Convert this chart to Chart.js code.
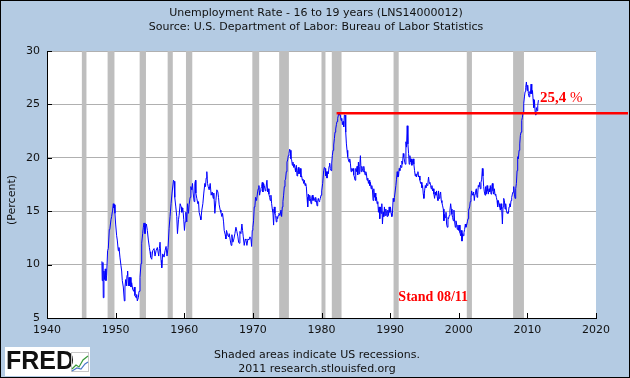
<!DOCTYPE html>
<html>
<head>
<meta charset="utf-8">
<title>Unemployment Rate - 16 to 19 years</title>
<script src="https://cdn.jsdelivr.net/npm/chart.js@4.4.1/dist/chart.umd.min.js"></script>
<style>
html, body { margin: 0; padding: 0; background: #b4cbe3; }
#wrap { width: 630px; height: 378px; }
</style>
</head>
<body>
<div id="wrap"><canvas id="teenChart" width="630" height="378"></canvas></div>
<script>
// monthly-ish readings of LNS14000012
var dates = [
  1948.00,1948.05,1948.15,1948.20,1948.30,1948.39,1948.49,1948.59,1948.69,1948.83,1948.93,
  1949.08,1949.17,1949.32,1949.42,1949.56,1949.66,1949.76,1949.85,1949.90,
  1950.00,1950.15,1950.24,1950.39,1950.49,1950.63,1950.78,1950.88,1950.97,
  1951.12,1951.27,1951.36,1951.46,1951.56,1951.66,1951.75,1951.85,1951.95,
  1952.04,1952.14,1952.24,1952.34,1952.48,1952.63,1952.73,1952.82,1952.97,
  1953.07,1953.16,1953.31,1953.41,1953.55,1953.70,1953.80,1953.94,
  1954.04,1954.14,1954.28,1954.38,1954.48,1954.62,1954.77,1954.92,
  1955.01,1955.11,1955.26,1955.40,1955.60,1955.74,1955.89,
  1956.08,1956.28,1956.38,1956.47,1956.62,1956.72,1956.86,
  1957.06,1957.20,1957.35,1957.49,1957.64,1957.79,1957.93,
  1958.08,1958.22,1958.43,1958.52,1958.62,1958.77,1958.91,
  1959.01,1959.16,1959.25,1959.40,1959.55,1959.64,1959.79,1959.93,
  1960.03,1960.13,1960.23,1960.37,1960.47,1960.62,1960.71,1960.86,1960.96,
  1961.10,1961.20,1961.30,1961.44,1961.54,1961.64,1961.69,1961.83,1961.98,
  1962.08,1962.17,1962.32,1962.42,1962.56,1962.71,1962.85,
  1963.00,1963.10,1963.19,1963.29,1963.39,1963.49,1963.63,1963.78,1963.92,
  1964.07,1964.22,1964.31,1964.46,1964.61,1964.75,1964.90,1964.99,
  1965.09,1965.24,1965.34,1965.48,1965.58,1965.73,1965.82,1965.97,
  1966.07,1966.16,1966.31,1966.46,1966.55,1966.70,1966.84,1966.94,
  1967.09,1967.23,1967.38,1967.53,1967.67,1967.82,1967.92,
  1968.01,1968.11,1968.26,1968.40,1968.50,1968.60,1968.74,1968.89,1968.99,
  1969.13,1969.28,1969.42,1969.57,1969.72,1969.82,1969.91,
  1970.00,1970.10,1970.20,1970.30,1970.39,1970.54,1970.69,1970.78,1970.88,1970.98,
  1971.08,1971.17,1971.27,1971.37,1971.46,1971.56,1971.66,1971.81,1971.90,
  1972.05,1972.15,1972.24,1972.34,1972.44,1972.53,1972.63,1972.73,1972.83,1972.92,
  1973.02,1973.12,1973.22,1973.31,1973.41,1973.51,1973.61,1973.70,1973.80,1973.95,
  1974.09,1974.19,1974.29,1974.38,1974.48,1974.58,1974.68,1974.77,1974.87,1974.97,
  1975.07,1975.16,1975.26,1975.36,1975.45,1975.55,1975.65,1975.75,1975.84,1975.94,
  1976.04,1976.14,1976.23,1976.33,1976.43,1976.53,1976.62,1976.72,1976.82,1976.91,
  1977.01,1977.11,1977.21,1977.30,1977.40,1977.50,1977.60,1977.69,1977.79,1977.89,1977.99,
  1978.08,1978.18,1978.28,1978.37,1978.47,1978.57,1978.67,1978.76,1978.86,1978.96,
  1979.06,1979.15,1979.25,1979.35,1979.45,1979.54,1979.64,1979.74,1979.83,1979.93,
  1980.03,1980.17,1980.32,1980.42,1980.52,1980.61,1980.71,1980.80,1980.90,
  1981.00,1981.10,1981.19,1981.29,1981.39,1981.49,1981.58,1981.68,1981.78,1981.88,1981.97,
  1982.07,1982.17,1982.26,1982.36,1982.46,1982.56,1982.65,1982.75,1982.85,1982.95,
  1983.04,1983.14,1983.24,1983.33,1983.43,1983.53,1983.63,1983.72,1983.82,1983.92,
  1984.02,1984.11,1984.21,1984.31,1984.41,1984.50,1984.60,1984.70,1984.79,1984.89,1984.99,
  1985.09,1985.18,1985.28,1985.38,1985.48,1985.57,1985.67,1985.77,1985.87,1985.96,
  1986.06,1986.16,1986.25,1986.35,1986.45,1986.55,1986.64,1986.74,1986.84,1986.94,
  1987.03,1987.13,1987.23,1987.33,1987.42,1987.52,1987.62,1987.71,1987.81,1987.91,
  1988.01,1988.10,1988.20,1988.30,1988.40,1988.49,1988.59,1988.69,1988.79,1988.88,1988.98,
  1989.08,1989.17,1989.27,1989.37,1989.47,1989.56,1989.66,1989.76,1989.86,1989.95,
  1990.05,1990.15,1990.25,1990.34,1990.44,1990.54,1990.63,1990.84,1990.93,
  1991.03,1991.13,1991.23,1991.32,1991.42,1991.52,1991.61,1991.71,1991.81,1991.91,
  1992.00,1992.10,1992.20,1992.30,1992.39,1992.49,1992.59,1992.69,1992.78,1992.88,1992.98,
  1993.07,1993.17,1993.27,1993.37,1993.46,1993.56,1993.66,1993.76,1993.85,1993.95,
  1994.05,1994.15,1994.24,1994.34,1994.44,1994.53,1994.63,1994.73,1994.83,1994.92,
  1995.02,1995.12,1995.22,1995.31,1995.41,1995.51,1995.60,1995.70,1995.80,1995.90,1995.99,
  1996.09,1996.19,1996.29,1996.38,1996.48,1996.58,1996.68,1996.77,1996.87,1996.97,
  1997.06,1997.16,1997.26,1997.36,1997.45,1997.55,1997.65,1997.75,1997.84,1997.94,
  1998.04,1998.14,1998.23,1998.33,1998.43,1998.52,1998.62,1998.72,1998.82,1998.91,
  1999.01,1999.11,1999.21,1999.30,1999.40,1999.50,1999.59,1999.69,1999.79,1999.89,1999.98,
  2000.08,2000.18,2000.28,2000.37,2000.47,2000.57,2000.67,2000.76,2000.86,2000.96,
  2001.05,2001.15,2001.25,2001.35,2001.44,2001.59,2001.68,2001.78,2001.88,2001.98,
  2002.07,2002.17,2002.27,2002.37,2002.46,2002.56,2002.66,2002.76,2002.85,2002.95,
  2003.05,2003.14,2003.24,2003.34,2003.44,2003.53,2003.63,2003.73,2003.83,2003.92,
  2004.02,2004.12,2004.22,2004.31,2004.41,2004.51,2004.60,2004.70,2004.80,2004.90,2004.99,
  2005.09,2005.19,2005.29,2005.38,2005.48,2005.58,2005.67,2005.77,2005.87,2005.97,
  2006.06,2006.16,2006.26,2006.36,2006.45,2006.55,2006.65,2006.75,2006.84,2006.94,
  2007.04,2007.13,2007.23,2007.33,2007.43,2007.52,2007.62,2007.72,2007.82,2007.91,
  2008.01,2008.11,2008.21,2008.30,2008.40,2008.50,2008.59,2008.69,2008.79,2008.89,2008.98,
  2009.08,2009.18,2009.28,2009.37,2009.47,2009.57,2009.67,2009.76,2009.86,2009.96,
  2010.05,2010.15,2010.25,2010.35,2010.44,2010.54,2010.64,2010.74,2010.83,2010.93,
  2011.03,2011.13,2011.22,2011.32,2011.42,2011.51,2011.61
];
var rates = [
  10.3,8.5,10.2,6.9,9.4,8.6,9.6,8.5,9.0,11.3,11.5,
  13.3,13.4,14.2,14.5,15.1,15.7,15.3,15.6,14.8,
  13.8,12.7,12.3,11.3,11.6,10.7,9.9,9.4,8.5,
  7.9,6.6,7.9,8.6,8.0,9.0,9.4,8.0,8.8,
  8.0,8.8,7.9,8.3,7.7,7.5,7.9,7.1,6.9,
  7.2,6.6,6.9,7.5,8.8,10.1,12.0,12.9,
  13.5,13.9,12.9,13.7,13.8,13.2,12.3,11.6,
  11.2,10.7,10.5,11.3,11.5,10.8,11.3,
  11.6,10.8,11.5,12.1,10.4,9.7,11.0,
  10.7,11.3,11.7,10.8,11.6,13.4,14.5,
  15.7,16.7,17.9,17.8,16.3,15.4,14.5,
  12.9,14.2,14.6,15.7,15.4,14.9,15.3,14.2,
  13.2,14.0,14.9,14.0,15.7,14.8,15.6,16.3,17.3,
  17.0,17.6,16.7,15.9,17.6,17.9,16.7,16.2,15.7,
  15.9,14.9,14.5,14.2,15.1,15.7,16.7,
  17.6,17.3,18.1,18.7,17.6,17.3,17.0,17.6,16.5,
  16.8,16.2,16.7,14.8,16.0,17.0,16.8,16.3,
  15.6,15.1,14.9,14.5,14.8,14.0,13.2,12.8,
  12.4,13.2,12.8,12.6,12.9,12.3,11.8,12.8,
  12.1,12.4,12.9,13.5,13.1,12.6,12.1,
  12.0,13.1,12.9,13.8,13.2,12.6,11.8,12.4,12.3,
  11.8,12.4,12.3,12.6,12.4,11.7,13.2,
  13.5,14.1,15.4,15.5,16.3,16.0,16.8,17.1,17.4,16.5,
  16.9,17.1,17.3,17.7,16.8,17.6,17.4,16.9,17.1,
  17.9,16.8,17.1,16.6,16.3,16.0,16.5,15.7,15.2,14.9,
  13.7,15.4,14.8,14.6,14.0,14.5,14.3,14.6,14.8,14.6,
  15.1,14.5,15.4,15.9,16.5,17.3,17.9,18.0,18.7,19.6,
  19.8,20.2,20.4,20.8,20.7,19.9,19.8,19.3,19.6,19.1,
  19.4,19.0,18.7,19.3,18.3,18.8,19.1,18.5,18.7,19.0,
  18.2,18.3,17.9,18.0,17.6,17.9,17.4,17.6,17.3,16.3,15.4,
  16.6,16.0,16.5,16.2,15.7,16.3,16.5,16.0,16.3,16.2,
  15.9,16.3,16.0,15.5,16.0,16.2,15.9,16.0,16.2,16.5,
  16.9,17.6,18.8,19.1,19.0,18.3,18.7,18.1,18.7,
  18.5,19.2,19.5,19.0,18.8,19.5,20.2,20.7,21.2,21.8,22.4,
  22.7,23.1,23.4,23.7,24.0,24.2,24.0,24.0,23.5,23.7,
  23.1,23.4,22.9,24.0,24.0,22.4,21.3,20.7,20.1,19.8,
  19.6,19.9,19.5,18.7,19.0,18.8,19.0,18.4,18.2,17.9,19.0,
  18.7,19.2,18.4,19.6,18.5,19.2,20.2,18.7,19.2,19.0,
  18.7,19.2,18.8,18.4,18.7,18.5,17.9,18.1,17.6,17.9,
  17.4,17.7,17.1,17.4,17.0,16.0,17.1,16.3,16.7,16.0,
  16.3,15.7,15.9,14.9,15.4,14.3,15.4,14.8,15.7,13.8,14.9,
  14.5,15.4,14.6,15.2,14.8,14.5,15.1,14.6,15.4,14.9,
  15.4,14.8,14.5,14.8,16.2,15.9,16.3,17.4,18.0,
  18.7,18.2,18.3,19.0,18.8,19.3,19.1,19.7,19.4,20.4,
  20.1,19.7,19.4,21.5,21.0,23.0,21.3,20.4,19.4,20.2,19.6,
  19.9,19.3,19.7,19.9,19.4,18.8,18.3,18.5,18.2,18.5,
  18.7,18.2,18.3,17.9,17.6,17.7,17.2,17.4,16.6,16.2,
  16.9,17.4,17.2,17.6,17.4,17.7,18.2,17.6,17.7,17.4,17.1,
  17.4,16.9,17.1,16.6,16.2,16.8,16.5,16.9,16.3,16.0,
  16.9,16.2,16.5,16.8,16.0,15.8,15.5,15.2,14.1,14.7,
  14.4,14.9,13.8,13.5,14.4,14.3,14.6,15.1,15.7,15.2,
  14.7,14.4,14.1,15.1,14.0,13.5,14.1,13.8,13.3,13.7,13.2,
  13.7,13.0,12.7,13.2,12.2,12.9,12.7,13.0,13.3,13.8,
  13.5,13.7,14.0,14.3,15.1,15.4,15.9,16.3,16.9,16.6,
  16.5,16.8,16.0,16.6,16.9,17.1,16.3,16.6,17.4,17.3,
  17.7,17.1,17.7,18.0,19.0,18.3,17.3,16.8,16.5,17.3,
  16.6,17.4,16.9,16.6,17.1,16.8,17.4,16.6,17.3,17.6,16.9,
  16.6,17.1,16.5,16.6,16.3,16.0,15.4,16.0,15.7,15.4,
  15.1,15.7,15.2,13.8,15.4,16.2,16.0,15.2,15.7,15.1,
  14.8,14.9,14.8,15.4,15.7,15.4,16.0,16.3,16.6,16.8,
  17.3,16.6,16.2,17.1,17.6,18.8,20.1,19.9,20.7,21.3,22.1,
  22.4,23.5,23.8,24.3,25.1,25.7,26.2,26.6,27.1,26.3,
  26.8,26.0,25.7,26.2,26.0,26.9,26.0,26.3,25.5,24.7,
  25.4,24.3,24.0,24.7,24.4,24.9,25.4
];

// NBER recessions (shaded)
var recessionStart = [1945.08, 1948.83, 1953.50, 1957.58, 1960.25, 1969.92, 1973.83, 1980.00, 1981.50, 1990.50, 2001.17, 2007.92];
var recessionEnd   = [1945.75, 1949.83, 1954.42, 1958.33, 1961.17, 1970.92, 1975.25, 1980.58, 1982.92, 1991.25, 2001.92, 2009.50];

var xTicks = [1940, 1950, 1960, 1970, 1980, 1990, 2000, 2010, 2020];
var yTicks = [5, 10, 15, 20, 25, 30];

var markLevel = 24.2;   // red line, 1982 peak
var markFrom = 1982.2;
var markValue = '25,4';
var markPos = [2011.85, 25.55];
var standText = 'Stand 08/11';
var standPos = [1991.2, 6.95];

var titleLines = ['Unemployment Rate - 16 to 19 years (LNS14000012)',
                  'Source: U.S. Department of Labor: Bureau of Labor Statistics'];
var footLines = ['Shaded areas indicate US recessions.', '2011 research.stlouisfed.org'];

var points = dates.map(function (d, i) { return { x: d, y: rates[i] }; });

var fredDeco = {
  id: 'fredDeco',
  beforeDraw: function (chart) {
    var ctx = chart.ctx, a = chart.chartArea;
    ctx.save();
    ctx.fillStyle = '#b4cbe3';
    ctx.fillRect(0, 0, chart.width, chart.height);
    ctx.fillStyle = '#ffffff';
    ctx.fillRect(a.left, a.top, a.right - a.left, a.bottom - a.top);
    ctx.restore();
  },
  beforeDatasetsDraw: function (chart) {
    var ctx = chart.ctx, a = chart.chartArea, x = chart.scales.x;
    ctx.save();
    ctx.fillStyle = '#bebebe';
    for (var i = 0; i < recessionStart.length; i++) {
      var x0 = x.getPixelForValue(recessionStart[i]);
      var x1 = x.getPixelForValue(recessionEnd[i]);
      ctx.fillRect(x0, a.top, x1 - x0, a.bottom - a.top);
    }
    ctx.restore();
  },
  afterDatasetsDraw: function (chart) {
    var ctx = chart.ctx, a = chart.chartArea, x = chart.scales.x, y = chart.scales.y;
    ctx.save();

    // inner tick marks
    ctx.strokeStyle = '#000';
    ctx.lineWidth = 1;
    ctx.beginPath();
    yTicks.forEach(function (v) {
      var py = Math.round(y.getPixelForValue(v)) + 0.5;
      ctx.moveTo(a.left, py); ctx.lineTo(a.left + 5, py);
    });
    xTicks.forEach(function (v) {
      var px = Math.round(x.getPixelForValue(v)) + 0.5;
      ctx.moveTo(px, a.bottom); ctx.lineTo(px, a.bottom - 5);
    });
    ctx.stroke();

    // red reference line out to the frame
    var ly = y.getPixelForValue(markLevel);
    ctx.fillStyle = '#ff0000';
    ctx.fillRect(x.getPixelForValue(markFrom), Math.round(ly) - 1, chart.width - 2 - x.getPixelForValue(markFrom), 2.5);

    ctx.textBaseline = 'middle';
    ctx.textAlign = 'left';
    ctx.font = 'bold 15px "Liberation Serif"';
    var mx = x.getPixelForValue(markPos[0]), my = y.getPixelForValue(markPos[1]);
    ctx.fillText(markValue, mx, my);
    var w = ctx.measureText(markValue + ' ').width;
    ctx.font = '15px "Liberation Serif"';
    ctx.fillText('%', mx + w, my);

    ctx.font = 'bold 14px "Liberation Serif"';
    ctx.fillText(standText, x.getPixelForValue(standPos[0]), y.getPixelForValue(standPos[1]));

    // titles and footer
    ctx.fillStyle = '#111';
    ctx.textAlign = 'center';
    ctx.font = '11px "DejaVu Sans"';
    ctx.fillText(titleLines[0], 316, 13);
    ctx.fillText(titleLines[1], 316, 27);
    ctx.fillText(footLines[0], 317, 355);
    ctx.fillText(footLines[1], 317, 369);

    ctx.save();
    ctx.translate(12, 200);
    ctx.rotate(-Math.PI / 2);
    ctx.fillText('(Percent)', 0, 0);
    ctx.restore();

    // FRED badge
    ctx.fillStyle = '#ffffff';
    ctx.fillRect(5, 347, 85, 29);
    ctx.fillStyle = '#111';
    ctx.textAlign = 'left';
    ctx.font = 'bold 25px "Liberation Sans"';
    ctx.fillText('FRED', 6, 362);
    ctx.strokeStyle = '#c8c8c8';
    ctx.strokeRect(71.5, 352.5, 17, 19);
    ctx.lineWidth = 1.2;
    ctx.strokeStyle = '#3a9a3a';
    ctx.beginPath();
    ctx.moveTo(72, 369); ctx.lineTo(76, 365); ctx.lineTo(79, 367); ctx.lineTo(83, 360); ctx.lineTo(88, 356);
    ctx.stroke();
    ctx.strokeStyle = '#4a78c8';
    ctx.beginPath();
    ctx.moveTo(72, 371); ctx.lineTo(77, 368); ctx.lineTo(81, 369); ctx.lineTo(85, 364); ctx.lineTo(88, 362);
    ctx.stroke();

    // outer frame
    ctx.strokeStyle = '#000';
    ctx.lineWidth = 1;
    ctx.strokeRect(0.5, 0.5, chart.width - 1, chart.height - 1);
    ctx.restore();
  }
};

new Chart(document.getElementById('teenChart').getContext('2d'), {
  type: 'line',
  data: {
    datasets: [{
      data: points,
      borderColor: '#0000ff',
      borderWidth: 1,
      pointRadius: 0,
      tension: 0,
      fill: false
    }]
  },
  options: {
    responsive: false,
    animation: false,
    layout: { padding: { top: 51, right: 34, left: 0, bottom: 0 } },
    plugins: { legend: { display: false }, tooltip: { enabled: false } },
    scales: {
      x: {
        type: 'linear', min: 1940, max: 2020,
        afterBuildTicks: function (s) { s.ticks = xTicks.map(function (v) { return { value: v }; }); },
        afterFit: function (s) { s.height = 60; },
        grid: { display: false, drawTicks: false },
        border: { color: '#000', width: 1 },
        ticks: {
          color: '#111', font: { family: 'DejaVu Sans', size: 11 }, padding: 6, maxRotation: 0, autoSkip: false,
          callback: function (v) { return String(v); }
        }
      },
      y: {
        min: 5, max: 30,
        afterBuildTicks: function (s) { s.ticks = yTicks.map(function (v) { return { value: v }; }); },
        afterFit: function (s) { s.width = 47; },
        grid: { color: '#b0b0b0', drawTicks: false },
        border: { color: '#000', width: 1 },
        ticks: { color: '#111', font: { family: 'DejaVu Sans', size: 11 }, padding: 7 }
      }
    }
  },
  plugins: [fredDeco]
});
</script>
</body>
</html>
